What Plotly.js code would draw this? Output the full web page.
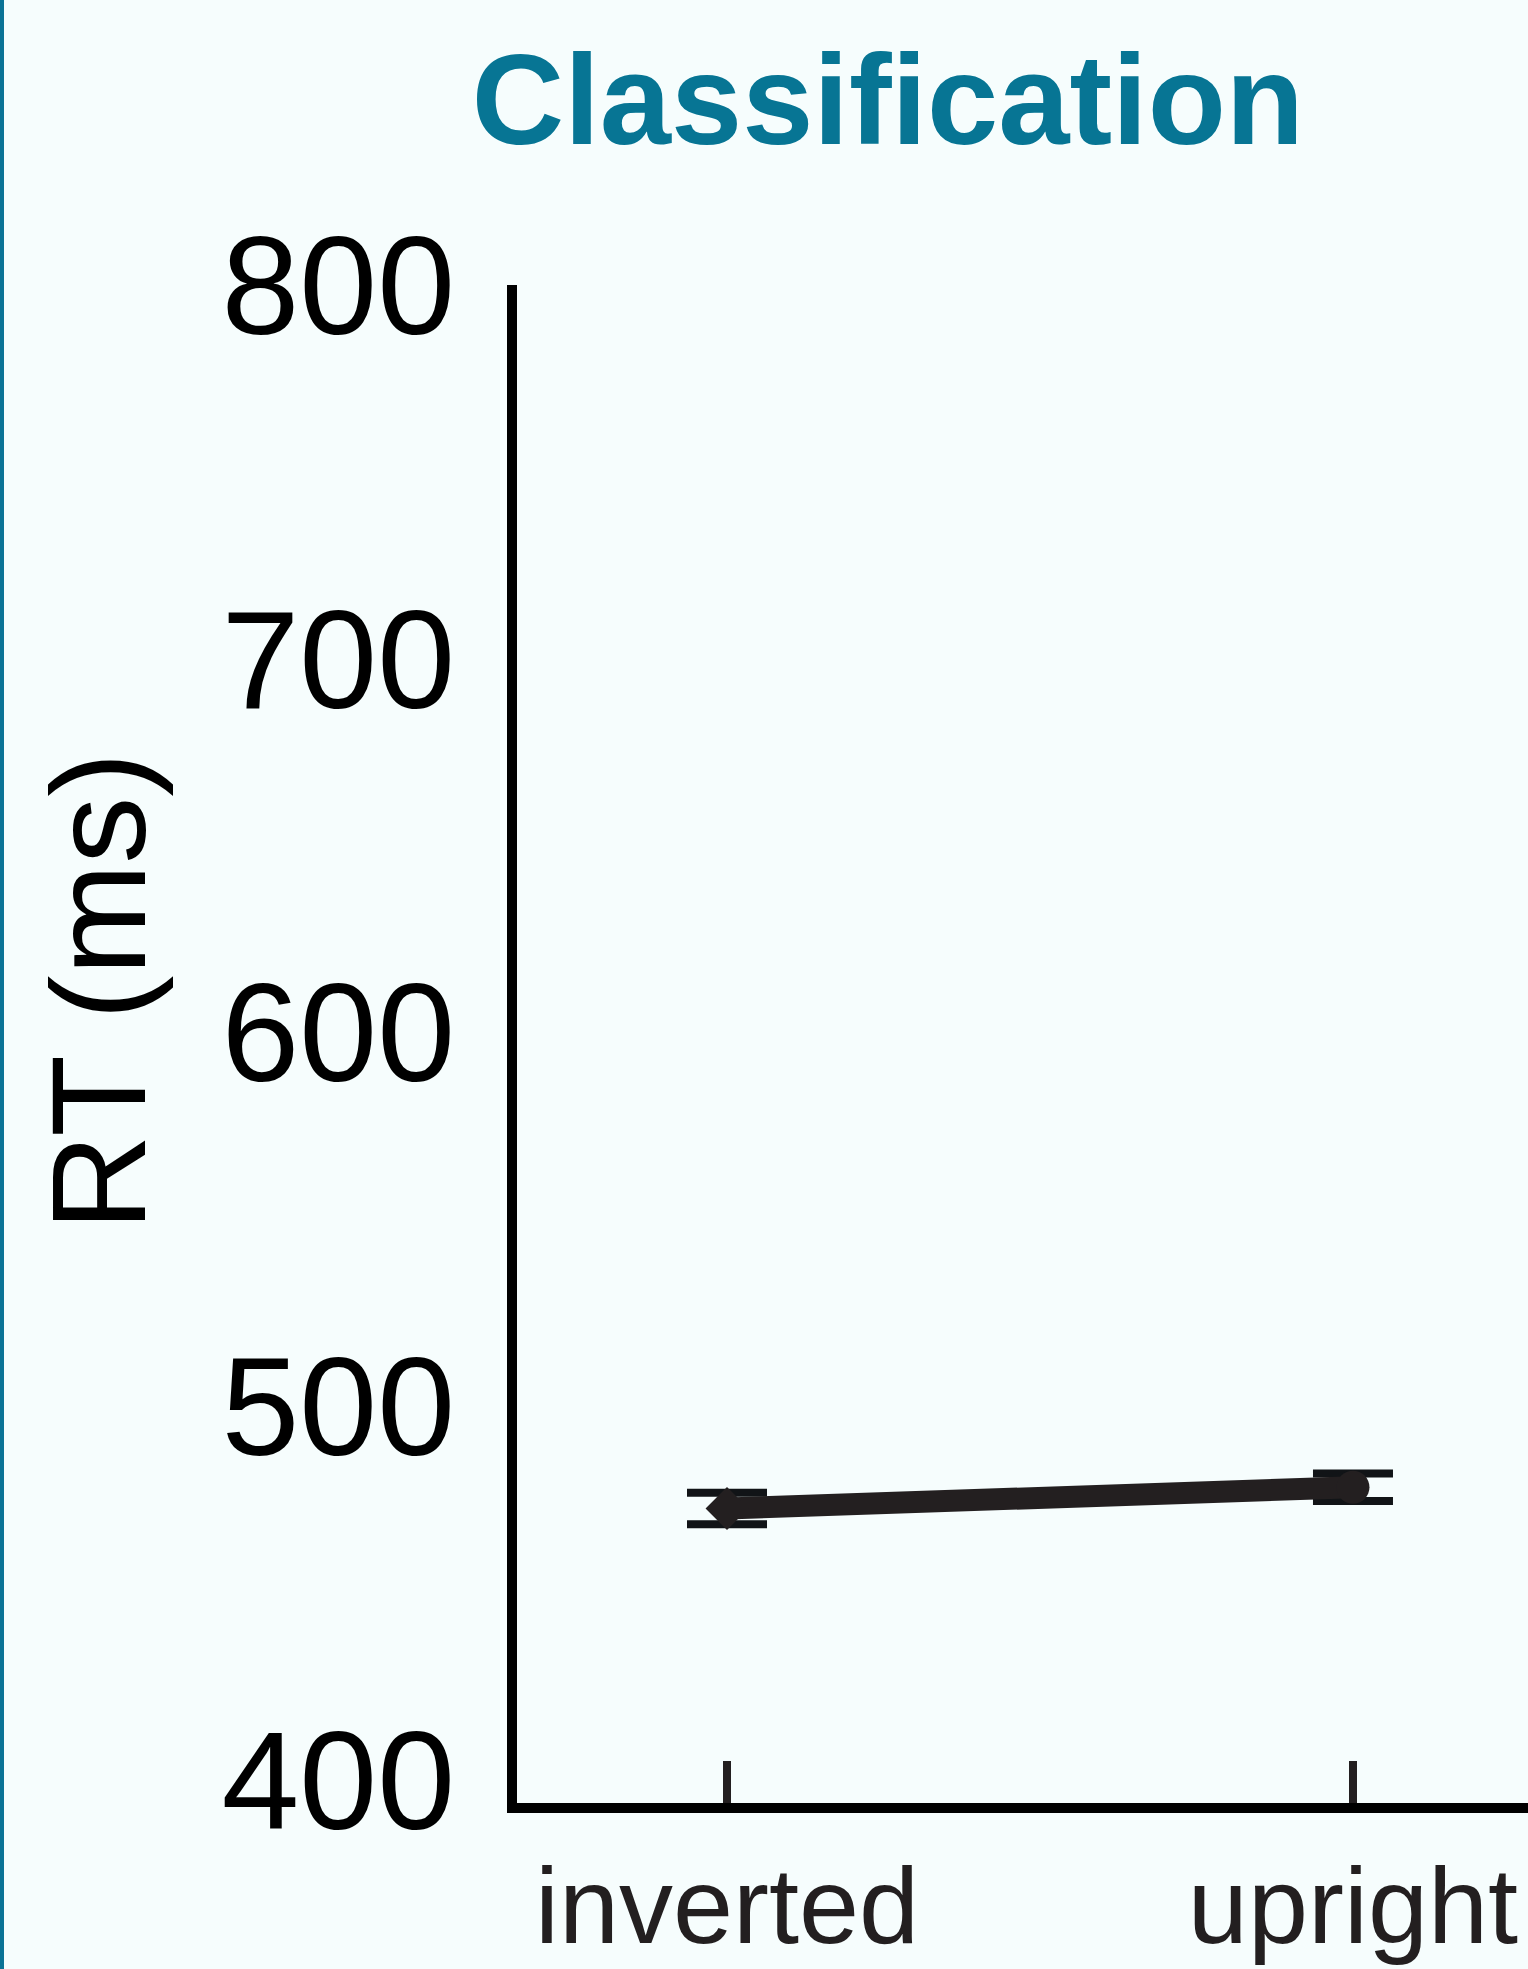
<!DOCTYPE html>
<html>
<head>
<meta charset="utf-8">
<script src="https://cdn.plot.ly/plotly-3.0.1.min.js"></script>
<style>
  html, body { margin: 0; padding: 0; background: #f6fdfd; }
  #wrap { width: 1524px; height: 1969px; border-left: 4px solid #0b7396; }
  #chart { width: 1524px; height: 1969px; }
</style>
</head>
<body>
<div id="wrap"><div id="chart"></div></div>
<script>
// ---- data ----
var conditions = ['inverted', 'upright'];
var meanRT = [472.6, 478.3];
var seRT = [4.2, 3.7];
var markerSymbols = ['diamond', 'circle'];
var yTickVals = [400, 500, 600, 700, 800];
var yTickText = ['400', '500', '600', '700', '800'];
var chartTitle = 'Classification';
var yTitle = 'RT (ms)';

var ink = '#231f20';
var fontFam = '"Liberation Sans", Arial, Helvetica, sans-serif';

var trace = {
  type: 'scatter',
  mode: 'lines+markers',
  x: conditions,
  y: meanRT,
  line: { color: ink, width: 22 },
  marker: { symbol: markerSymbols, size: 33, color: ink, line: { width: 0 } },
  error_y: { type: 'data', array: seRT, visible: true, color: '#111417', thickness: 8, width: 40 },
  showlegend: false,
  hoverinfo: 'x+y'
};

var layout = {
  width: 1524,
  height: 1969,
  paper_bgcolor: '#f6fdfd',
  plot_bgcolor: '#f6fdfd',
  margin: { l: 513, r: 0, t: 285, b: 166 },
  title: {
    text: '<b>' + chartTitle + '</b>',
    font: { family: fontFam, size: 128, color: '#077594' },
    x: 0.58, xanchor: 'center', xref: 'container',
    y: 1 - 99 / 1969, yanchor: 'middle', yref: 'container'
  },
  xaxis: {
    type: 'category',
    range: [-0.3355, 1.2796],
    showline: true, linewidth: 10, linecolor: '#000000',
    ticks: 'inside', ticklen: 42, tickwidth: 8, tickcolor: ink,
    tickfont: { family: fontFam, size: 108, color: ink },
    ticklabelstandoff: 0,
    showgrid: false, zeroline: false, fixedrange: true
  },
  yaxis: {
    range: [393.8, 800],
    tickvals: yTickVals, ticktext: yTickText,
    showline: true, linewidth: 10, linecolor: '#000000',
    ticks: '',
    tickfont: { family: fontFam, size: 140, color: '#000000' },
    ticklabelstandoff: 24,
    showgrid: false, zeroline: false, fixedrange: true
  },
  annotations: [{
    text: yTitle,
    textangle: -90,
    xref: 'paper', yref: 'paper',
    x: 0, xshift: -419, xanchor: 'center',
    y: (1803 - 992) / 1518, yanchor: 'middle',
    showarrow: false,
    font: { family: fontFam, size: 134, color: '#000000' }
  }]
};

Plotly.newPlot('chart', [trace], layout, { displayModeBar: false, staticPlot: true });
</script>
</body>
</html>
